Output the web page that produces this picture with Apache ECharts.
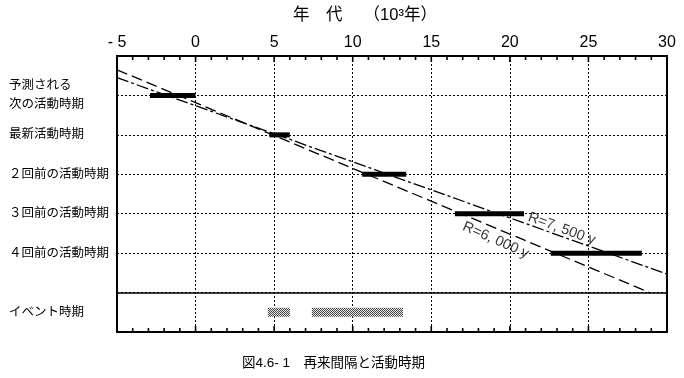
<!DOCTYPE html>
<html><head><meta charset="utf-8">
<script src="https://cdn.jsdelivr.net/npm/echarts@6/dist/echarts.min.js"></script>
<style>html,body{margin:0;padding:0;background:#fff}#c{width:684px;height:378px}</style>
</head><body><div id="c"></div>
<script>
// ---- data ----
const xTicks = [-5, 0, 5, 10, 15, 20, 25, 30];
const minorTickValues = [-4, -3, -2, -1, 0, 1, 2, 3, 4, 5, 6, 7, 8, 9, 10, 11, 12, 13, 14, 15, 16, 17, 18, 19, 20, 21, 22, 23, 24, 25, 26, 27, 28, 29];
const rowLabels = ['予測される\n次の活動時期', '最新活動時期', '２回前の活動時期', '３回前の活動時期', '４回前の活動時期'];
const eventLabel = 'イベント時期';
const activityStart = [-2.9, 4.7, 10.6, 16.5, 22.6];
const activityEnd = [0.0, 6.0, 13.4, 20.9, 28.4];
const eventStart = [4.6, 7.4];
const eventEnd = [6.0, 13.2];
const lineR7500 = [[-5, 0.55], [30, 5.53]];
const lineR6000 = [[-5, 0.35], [28.9, 6.0]];
const labelR7500 = 'R=7, 500 y';
const labelR6000 = 'R=6, 000 y';
const titleText = '年　代　 （10³年）';
const captionText = '図4.6- 1　再来間隔と活動時期';

const FONT = '"Liberation Sans", "Noto Sans CJK JP", sans-serif';
const chart = echarts.init(document.getElementById('c'), null, {renderer: 'canvas'});

// checker pattern for event bars
const pc = document.createElement('canvas');
pc.width = 2; pc.height = 2;
const pctx = pc.getContext('2d');
pctx.fillStyle = '#e8e8e8'; pctx.fillRect(0, 0, 2, 2);
pctx.fillStyle = '#444'; pctx.fillRect(0, 0, 1, 1); pctx.fillRect(1, 1, 1, 1);

const activityData = activityStart.map((s, i) => [s, activityEnd[i], i + 1]);
const eventData = eventStart.map((s, i) => [s, eventEnd[i], 6.5]);
const tickData = minorTickValues.map(v => [v, v, 3.5]);

function barRenderer(h, fill) {
  return function (params, api) {
    const a = api.coord([api.value(0), api.value(2)]);
    const b = api.coord([api.value(1), api.value(2)]);
    return {type: 'rect', shape: {x: a[0], y: a[1] - h / 2, width: b[0] - a[0], height: h}, style: {fill: fill}};
  };
}

function tickRenderer(params, api) {
  const v = api.value(0);
  const t = api.coord([v, 0]);
  const b = api.coord([v, 7]);
  const len = (Math.abs(v) % 5 === 0) ? 6 : 4;
  return {type: 'path', shape: {pathData:
      'M' + (t[0] - 0.8) + ' ' + t[1] + 'h1.6v' + len + 'h-1.6Z' +
      'M' + (b[0] - 0.8) + ' ' + (b[1] - len) + 'h1.6v' + len + 'h-1.6Z'},
    style: {fill: '#000'}};
}

chart.setOption({
  animation: false,
  backgroundColor: '#fff',
  grid: {left: 117, right: 17, top: 56, bottom: 46, show: true, borderColor: '#000', borderWidth: 2, backgroundColor: 'transparent'},
  xAxis: {
    type: 'value', min: xTicks[0], max: xTicks[xTicks.length - 1], interval: 5,
    position: 'top',
    axisLine: {show: false},
    axisTick: {show: false},
    axisLabel: {show: true, margin: 5, fontSize: 16, color: '#000', fontFamily: FONT,
      formatter: v => v < 0 ? '- ' + Math.abs(v) : String(v)},
    splitLine: {show: true, lineStyle: {color: '#000', type: [2, 2], width: 1}}
  },
  yAxis: {
    type: 'value', min: 0, max: 7, interval: 1, inverse: true,
    axisLine: {show: false}, axisTick: {show: false},
    splitLine: {show: true, lineStyle: {color: '#000', type: [2, 2], width: 1}},
    axisLabel: {
      show: true, customValues: [1, 2, 3, 4, 5, 6.5], align: 'left', margin: 108,
      fontSize: 12.5, lineHeight: 19, color: '#000', fontFamily: FONT,
      formatter: v => v === 6.5 ? eventLabel : rowLabels[v - 1]
    }
  },
  series: [
    {
      type: 'line', data: lineR6000, symbol: 'none', clip: true,
      lineStyle: {color: '#000', width: 1.3, type: [11, 5]},
      markLine: {symbol: 'none', silent: true, label: {show: false},
        lineStyle: {color: '#000', type: 'solid', width: 1.5}, data: [{yAxis: 6}]}
    },
    {
      type: 'line', data: lineR7500, symbol: 'none', clip: true,
      lineStyle: {color: '#000', width: 1.3, type: [12, 3, 3, 3]}
    },
    {
      type: 'custom', data: activityData, encode: {x: [0, 1], y: 2},
      renderItem: barRenderer(5, '#000')
    },
    {
      type: 'custom', data: eventData, encode: {x: [0, 1], y: 2},
      renderItem: barRenderer(9, {image: pc, repeat: 'repeat'})
    },
    {
      type: 'custom', data: tickData, encode: {x: [0, 1], y: 2}, clip: false, z: 10,
      renderItem: tickRenderer
    },
    {
      type: 'scatter', symbolSize: 1, itemStyle: {color: 'rgba(0,0,0,0)'},
      data: [
        {value: [23.3, 4.38], label: {formatter: labelR7500, rotate: -20}},
        {value: [19.1, 4.67], label: {formatter: labelR6000, rotate: -24}}
      ],
      label: {show: true, position: 'inside', fontSize: 14.5, color: '#000', fontFamily: FONT}
    }
  ],
  graphic: [
    {type: 'text', left: 293, top: 7, style: {text: titleText, fontSize: 16.5, fill: '#000', fontFamily: FONT}},
    {type: 'text', left: 242, top: 357, style: {text: captionText, fontSize: 13.5, fill: '#000', fontFamily: FONT}}
  ]
});
</script></body></html>
